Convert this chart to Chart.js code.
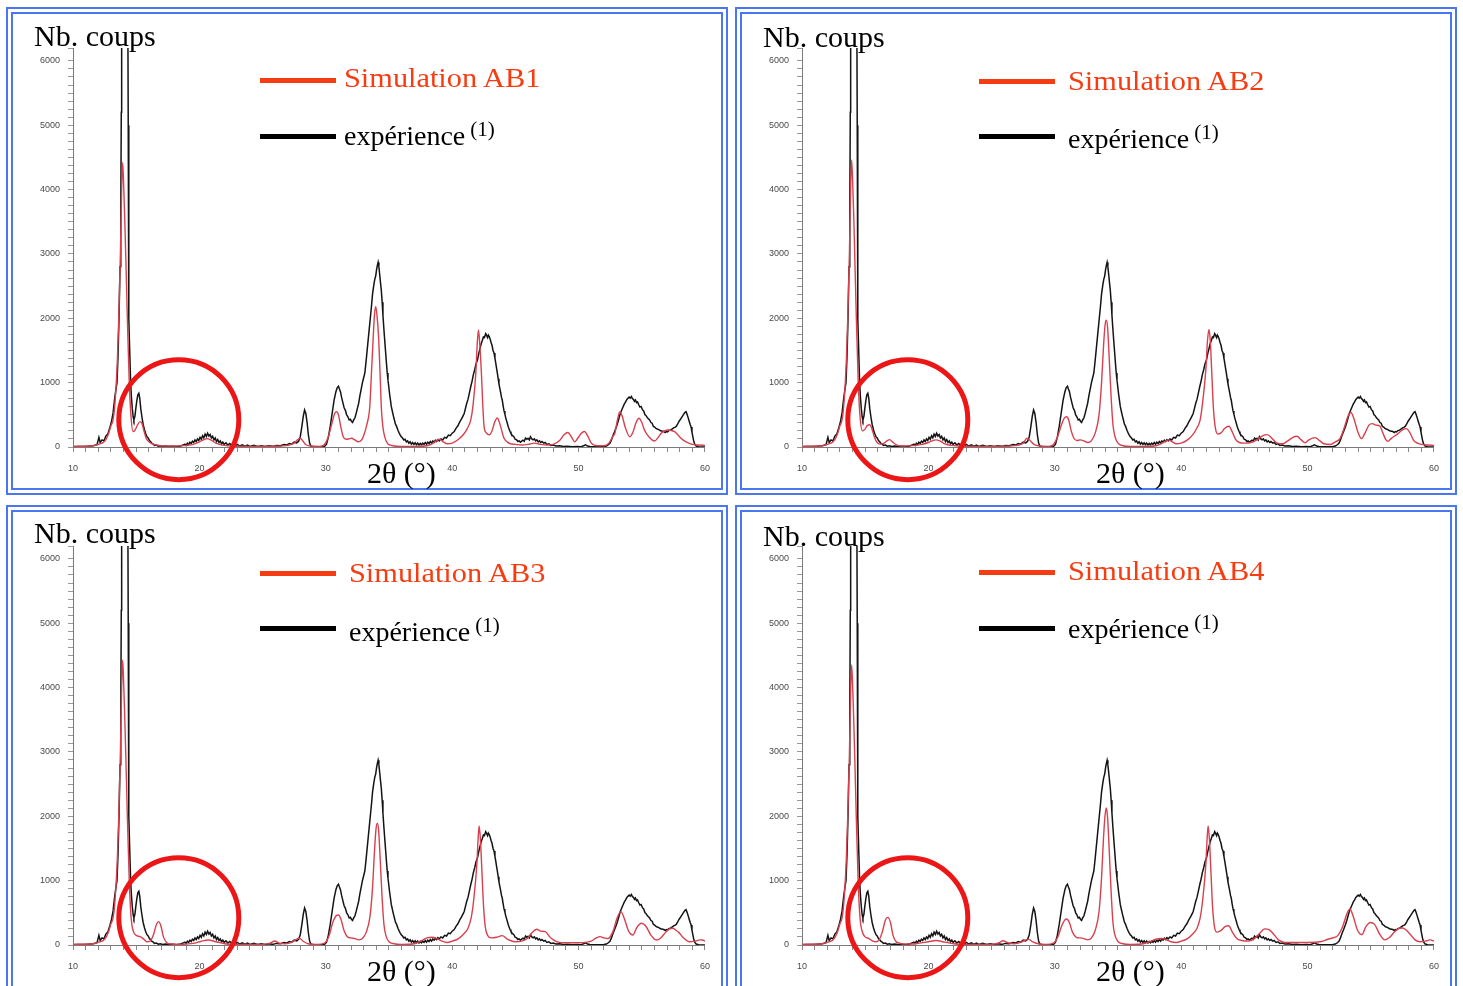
<!DOCTYPE html>
<html>
<head>
<meta charset="utf-8">
<script src="https://cdn.jsdelivr.net/npm/chart.js@4/dist/chart.umd.min.js"></script>
<style>
  html, body { margin: 0; padding: 0; background: #fff; }
  body { position: relative; width: 1463px; height: 986px; overflow: hidden; font-family: "Liberation Serif", "Times New Roman", serif; }
  .frame { position: absolute; box-sizing: border-box; border: 2px solid #4a76f3; }
  .cv { position: absolute; }
  .txt { position: absolute; white-space: nowrap; line-height: 1; color: #000; transform-origin: 0 0; }
  .red { color: #f53c12; transform: scaleX(1.083); }
  .bar { position: absolute; height: 5px; }
</style>
</head>
<body>
<script>
// ---------- DATA ----------
const xTickLabels = [10, 20, 30, 40, 50, 60];
const yTickLabels = [0, 1000, 2000, 3000, 4000, 5000, 6000];
const simNames = ['Simulation AB1', 'Simulation AB2', 'Simulation AB3', 'Simulation AB4'];
const expLabel = 'expérience';
const expSup = '(1)';
const yTitle = 'Nb. coups';
const xTitle = '2θ (°)';

// experimental pattern (black), same in all four panels
const expTheta = [10.0,10.4,10.8,11.2,11.6,11.9,12.05,12.15,12.3,12.45,12.6,12.75,12.9,13.05,13.17,13.3,13.4,13.48,13.56,13.64,13.72,13.78,13.82,13.85,14.1,14.34,14.37,14.4,14.43,14.5,14.56,14.62,14.69,14.76,14.82,14.9,14.97,15.05,15.13,15.21,15.28,15.36,15.45,15.55,15.66,15.75,15.85,15.95,16.05,16.15,16.25,16.35,16.45,16.6,16.75,16.9,17.1,17.3,17.6,17.9,18.2,18.5,18.7,18.85,18.95,19.05,19.15,19.25,19.35,19.45,19.55,19.65,19.75,19.85,19.95,20.05,20.15,20.25,20.35,20.45,20.55,20.65,20.75,20.85,20.95,21.05,21.15,21.25,21.35,21.45,21.55,21.65,21.75,21.85,21.95,22.1,22.25,22.4,22.55,22.7,22.85,23.0,23.2,23.4,23.6,23.8,24.0,24.3,24.6,24.9,25.2,25.5,25.8,26.1,26.4,26.7,26.9,27.1,27.3,27.5,27.7,27.85,27.98,28.1,28.22,28.32,28.42,28.52,28.62,28.72,28.82,29.0,29.3,29.6,29.9,30.05,30.2,30.35,30.5,30.65,30.8,30.9,31.0,31.08,31.16,31.25,31.35,31.45,31.55,31.65,31.75,31.85,31.95,32.04,32.12,32.2,32.3,32.4,32.5,32.6,32.7,32.8,32.9,33.0,33.09,33.18,33.3,33.42,33.52,33.61,33.7,33.8,33.87,33.95,34.02,34.08,34.14,34.2,34.28,34.34,34.39,34.46,34.52,34.59,34.66,34.73,34.8,34.86,34.92,34.98,35.05,35.12,35.18,35.26,35.35,35.43,35.5,35.6,35.71,35.8,35.88,35.97,36.07,36.17,36.27,36.37,36.47,36.57,36.67,36.77,36.87,36.97,37.07,37.17,37.27,37.37,37.47,37.57,37.67,37.77,37.87,37.97,38.07,38.17,38.27,38.37,38.47,38.57,38.67,38.77,38.87,38.97,39.11,39.25,39.4,39.55,39.7,39.85,40.0,40.16,40.3,40.45,40.6,40.75,40.85,40.95,41.05,41.15,41.25,41.35,41.47,41.57,41.67,41.78,41.88,42.0,42.1,42.2,42.3,42.39,42.47,42.55,42.65,42.73,42.8,42.86,42.92,43.0,43.08,43.15,43.23,43.31,43.38,43.45,43.52,43.57,43.64,43.7,43.78,43.85,43.9,43.96,44.03,44.1,44.17,44.24,44.3,44.36,44.43,44.5,44.58,44.65,44.75,44.88,44.98,45.1,45.2,45.3,45.4,45.5,45.6,45.7,45.8,45.9,46.0,46.1,46.19,46.3,46.4,46.5,46.6,46.7,46.8,46.9,47.0,47.1,47.24,47.35,47.5,47.65,47.8,48.0,48.2,48.5,48.8,49.1,49.5,49.9,50.2,50.4,50.55,50.7,50.9,51.3,51.7,52.0,52.2,52.35,52.48,52.6,52.72,52.85,53.0,53.1,53.2,53.3,53.42,53.53,53.62,53.72,53.82,53.92,54.0,54.08,54.18,54.26,54.34,54.42,54.5,54.58,54.66,54.75,54.85,54.95,55.05,55.15,55.25,55.33,55.42,55.52,55.62,55.72,55.82,55.92,56.02,56.12,56.22,56.35,56.45,56.55,56.65,56.75,56.85,56.94,57.04,57.14,57.24,57.34,57.44,57.55,57.65,57.72,57.82,57.92,58.02,58.12,58.22,58.32,58.42,58.5,58.58,58.66,58.75,58.83,58.9,58.97,59.05,59.12,59.2,59.3,59.5,59.8,60.0];
const expCounts = [4,8,6,12,18,35,150,70,110,95,170,200,290,400,530,760,900,1000,1400,2000,2800,3600,5200,6600,12500,6600,5000,3300,2000,1400,1000,780,600,470,420,480,600,720,810,835,760,600,470,350,264,210,160,140,100,80,55,45,25,30,12,20,8,15,6,12,5,14,30,45,25,60,40,75,55,90,70,110,85,125,100,150,120,175,140,200,165,215,170,195,140,165,110,140,85,115,70,95,50,75,40,65,30,55,25,60,20,40,15,35,10,30,10,25,8,20,8,18,10,25,20,40,30,55,45,75,65,90,160,310,480,575,520,380,190,60,15,5,0,0,10,40,150,320,520,720,860,920,945,900,860,770,690,610,570,500,470,420,430,395,380,420,450,520,600,680,800,900,1000,1080,1150,1320,1560,1800,2000,2180,2380,2520,2600,2660,2760,2820,2870,2800,2650,2530,2440,2250,2050,1850,1660,1480,1300,1150,1040,940,820,720,630,560,480,420,360,320,260,220,190,160,140,110,120,80,95,60,80,45,70,40,65,35,60,30,55,35,60,40,70,45,75,55,85,60,95,75,105,85,115,95,125,110,150,140,185,175,215,240,290,330,390,440,480,520,600,680,740,830,940,1020,1120,1200,1290,1350,1450,1530,1610,1660,1710,1700,1760,1730,1700,1740,1720,1680,1620,1580,1500,1460,1380,1300,1210,1150,1060,980,900,830,770,730,640,560,510,450,410,370,320,280,240,210,180,160,120,110,85,95,75,90,105,90,140,120,135,110,160,125,110,125,95,110,80,95,70,85,60,70,40,50,25,30,15,18,8,10,5,8,5,20,35,15,8,5,5,8,15,35,57,110,180,240,320,380,450,520,580,630,670,700,740,760,775,760,785,750,740,710,730,690,700,660,620,630,580,560,500,490,460,440,420,380,370,320,310,290,280,270,255,250,245,240,225,240,235,255,260,270,285,300,310,320,350,390,420,450,480,510,540,550,510,460,400,350,310,230,150,80,40,15,5,0,0];

// simulations (red)
const ab1Theta = [10,11,11.5,12.0,12.5,12.8,13.0,13.17,13.3,13.5,13.62,13.75,13.85,13.93,14.02,14.1,14.17,14.3,14.45,14.6,14.74,14.9,15.1,15.3,15.45,15.6,15.79,16.0,16.4,17,18,19,19.5,20.0,20.3,20.6,20.9,21.3,21.8,22.5,24,26,27,27.5,27.75,27.98,28.2,28.4,28.8,29.5,29.9,30.2,30.5,30.7,30.86,31.0,31.2,31.38,31.6,31.8,32.04,32.3,32.56,32.8,33.0,33.25,33.48,33.6,33.74,33.85,33.95,34.05,34.19,34.3,34.39,34.5,34.66,34.9,35.3,36,37,38,38.5,38.98,39.3,39.6,40.0,40.5,40.95,41.2,41.47,41.65,41.87,41.98,42.08,42.18,42.31,42.42,42.52,42.7,42.92,43.15,43.35,43.57,43.8,44.1,44.35,44.6,45,45.5,46,46.5,47,47.5,48,48.5,48.85,49.15,49.45,49.7,49.95,50.2,50.46,50.75,51.0,51.5,52.0,52.4,52.7,52.87,53.05,53.26,53.45,53.7,54.05,54.3,54.55,54.78,55.0,55.2,55.36,55.7,56.0,56.3,56.54,56.8,57.07,57.35,57.6,57.85,58.1,58.5,59.0,59.5,60];
const ab1Counts = [10,12,15,40,90,200,330,420,630,1300,2000,3000,4000,4420,4000,3500,3000,2000,1000,450,240,260,340,395,370,260,135,80,40,20,15,25,40,80,110,130,110,60,30,15,10,12,25,60,110,135,90,40,15,10,40,160,380,520,550,500,300,160,120,125,135,110,82,100,180,350,630,1100,1660,2050,2180,2050,1660,1100,630,340,160,50,20,10,10,20,60,120,80,50,60,120,210,290,420,650,1150,1600,1820,1600,1150,650,320,220,190,250,380,450,340,135,80,50,40,30,40,60,40,30,40,100,190,225,150,80,140,210,240,160,60,20,20,60,160,213,400,550,480,300,160,230,380,446,380,270,213,130,93,150,213,250,264,255,238,190,135,80,40,30,25];

const ab2Theta = [10,11,11.5,12.0,12.5,12.8,13.0,13.17,13.3,13.5,13.62,13.75,13.85,13.93,14.02,14.1,14.17,14.3,14.45,14.6,14.78,14.95,15.15,15.35,15.5,15.7,15.9,16.2,16.5,16.75,16.94,17.15,17.5,18,19,19.5,20.0,20.3,20.6,20.9,21.3,21.8,22.5,24,26,27,27.5,27.8,28.05,28.35,28.8,29.5,29.9,30.2,30.5,30.75,30.94,31.1,31.3,31.5,31.75,32.0,32.3,32.6,32.9,33.2,33.5,33.7,33.85,33.98,34.08,34.18,34.3,34.45,34.6,34.75,35.0,35.4,36,37,38,38.5,38.98,39.3,39.6,40.0,40.5,40.95,41.2,41.5,41.7,41.95,42.08,42.2,42.3,42.42,42.55,42.7,42.9,43.15,43.45,43.78,44.05,44.3,44.6,45.0,45.5,46.0,46.4,46.8,47.2,47.6,48.0,48.4,48.8,49.15,49.5,49.8,50.1,50.6,50.95,51.3,51.8,52.2,52.56,52.9,53.2,53.42,53.65,53.95,54.26,54.55,54.85,55.13,55.4,55.7,55.95,56.2,56.35,56.6,57.1,57.5,57.8,58.1,58.4,58.7,59.0,59.5,60];
const ab2Counts = [10,12,15,40,90,200,330,420,630,1300,2000,3000,4050,4460,4050,3550,3000,2000,1000,450,250,270,330,345,300,170,80,45,60,100,115,80,30,15,25,40,70,95,110,95,50,25,15,10,12,25,60,135,100,40,15,10,40,150,330,450,470,420,250,140,100,110,95,70,100,220,500,1000,1550,1900,1970,1850,1400,800,350,170,60,20,10,10,20,60,110,80,50,60,110,200,280,420,700,1200,1650,1826,1650,1150,600,300,200,220,290,322,230,120,70,60,70,110,170,192,130,60,50,90,145,166,110,65,110,145,100,50,40,80,130,300,480,535,450,250,130,220,340,363,340,330,220,110,88,130,200,265,285,220,100,60,40,30,25];

const ab3Theta = [10,11,11.5,12.0,12.5,12.8,13.0,13.17,13.3,13.5,13.62,13.75,13.85,13.93,14.02,14.1,14.17,14.3,14.45,14.6,14.8,15.0,15.3,15.55,15.85,16.1,16.35,16.6,16.77,16.95,17.15,17.4,17.8,18.5,19.5,20.1,20.7,21.3,22,23,25,25.6,25.96,26.3,26.8,27.3,27.6,27.9,28.2,28.6,29.3,29.9,30.25,30.55,30.8,31.0,31.2,31.45,31.7,32.0,32.3,32.6,32.9,33.2,33.5,33.7,33.85,33.97,34.08,34.18,34.3,34.45,34.6,34.75,35.0,35.4,36,37,37.5,38.0,38.4,38.8,39.2,39.6,40.0,40.5,40.95,41.25,41.5,41.7,41.95,42.05,42.13,42.23,42.35,42.48,42.62,42.8,43.1,43.5,43.96,44.3,44.6,45.0,45.5,46.0,46.35,46.7,47.0,47.37,47.7,48.0,48.5,49.5,50.5,51.0,51.4,51.7,52.0,52.3,52.7,53.05,53.35,53.6,53.95,54.3,54.6,54.97,55.3,55.7,56.15,56.5,56.9,57.2,57.46,57.7,57.9,58.3,58.77,59.2,59.6,59.8,60];
const ab3Counts = [10,12,15,40,90,200,330,420,630,1300,2000,3000,4000,4430,4000,3500,3000,2000,1000,420,200,150,130,100,50,60,150,320,363,300,130,40,15,10,25,55,78,50,20,10,10,30,62,30,20,40,80,104,60,20,10,30,140,350,450,466,400,220,130,110,100,80,100,200,450,900,1450,1800,1893,1780,1350,750,320,150,50,20,10,20,60,110,120,100,60,40,60,100,180,260,420,700,1250,1650,1850,1650,1150,600,280,150,110,120,145,100,70,50,60,110,200,244,215,207,130,80,40,35,40,60,110,130,110,100,200,420,518,420,220,155,270,337,300,160,78,110,200,250,260,230,200,110,51,60,80,78,60];

const ab4Theta = [10,11,11.5,12.0,12.5,12.8,13.0,13.17,13.3,13.5,13.62,13.75,13.85,13.93,14.02,14.1,14.17,14.3,14.45,14.6,14.8,14.97,15.3,15.6,15.85,16.1,16.35,16.6,16.8,17.0,17.2,17.45,17.6,18,19,20,20.6,21.3,22,23,25,25.6,25.9,26.3,26.8,27.3,27.6,27.93,28.25,28.7,29.3,29.9,30.25,30.55,30.8,30.94,31.15,31.4,31.7,32,32.3,32.6,32.9,33.2,33.5,33.7,33.85,33.97,34.07,34.17,34.3,34.45,34.6,34.75,35.0,35.4,36,37,37.5,38.0,38.4,38.8,39.2,39.6,40.0,40.5,40.95,41.25,41.5,41.7,41.95,42.05,42.13,42.23,42.35,42.48,42.62,42.8,43.1,43.5,43.75,44.05,44.4,44.8,45.3,45.8,46.2,46.6,46.95,47.3,47.7,48.2,49,50,51,51.6,52.0,52.4,52.8,53.1,53.35,53.6,53.95,54.3,54.6,54.95,55.3,55.7,56.1,56.5,56.9,57.25,57.5,57.75,58.1,58.5,58.9,59.3,59.7,60];
const ab4Counts = [10,12,15,40,90,200,330,420,630,1300,2000,2950,3950,4350,3950,3450,2950,1950,950,400,190,130,100,60,50,80,200,390,430,350,150,50,36,15,20,50,70,45,20,10,10,35,67,35,20,40,70,88,50,20,10,30,130,300,390,404,350,200,120,110,100,80,110,230,520,1050,1650,2000,2130,2000,1500,850,350,160,55,20,10,20,50,90,100,85,50,40,60,100,180,260,420,700,1250,1650,1850,1650,1150,600,300,200,220,290,300,200,100,70,60,100,180,250,240,170,80,40,40,40,50,90,110,150,300,480,560,450,230,160,280,350,320,170,80,120,210,260,265,240,170,80,50,60,80,60];

const simTheta = [ab1Theta, ab2Theta, ab3Theta, ab4Theta];
const simCounts = [ab1Counts, ab2Counts, ab3Counts, ab4Counts];
const ringCenter = [18.37, 425]; // 2θ, counts of the highlighted zone

// ---------- LAYOUT ----------
const offsets = [[0, 0], [729, 0], [0, 498], [729, 498]];
const textPos = [
  { nb: [34, 46], sim: [344, 87], red: [260, 80], exp: [344, 145], blk: [260, 136], ax: [367, 483] },
  { nb: [763, 47], sim: [1068, 90], red: [979, 81], exp: [1068, 148], blk: [979, 136], ax: [1096, 483] },
  { nb: [34, 543], sim: [349, 582], red: [260, 573], exp: [349, 641], blk: [260, 628], ax: [367, 981] },
  { nb: [763, 546], sim: [1068, 580], red: [979, 572], exp: [1068, 638], blk: [979, 628], ax: [1096, 981] }
];

function addDiv(cls, css, html) {
  const d = document.createElement('div');
  d.className = cls;
  Object.assign(d.style, css);
  if (html !== undefined) d.innerHTML = html;
  document.body.appendChild(d);
  return d;
}
function addText(x, base, size, html, cls) {
  return addDiv('txt' + (cls ? ' ' + cls : ''), { left: x + 'px', top: (base - 0.8375 * size) + 'px', fontSize: size + 'px' }, html);
}

const ringPlugin = {
  id: 'ring',
  afterDraw(chart) {
    const { ctx, scales } = chart;
    const cx = scales.x.getPixelForValue(ringCenter[0]);
    const cy = scales.y.getPixelForValue(ringCenter[1]);
    ctx.save();
    ctx.beginPath();
    ctx.arc(cx, cy, 60, 0, Math.PI * 2);
    ctx.lineWidth = 5;
    ctx.strokeStyle = '#ec1616';
    ctx.stroke();
    ctx.restore();
  }
};

offsets.forEach(([dx, dy], i) => {
  addDiv('frame', { left: (6 + dx) + 'px', top: (7 + dy) + 'px', width: '722px', height: '488px' });
  addDiv('frame', { left: (11 + dx) + 'px', top: (12 + dy) + 'px', width: '712px', height: '478px' });

  const cv = document.createElement('canvas');
  cv.className = 'cv';
  cv.width = 708; cv.height = 474;
  Object.assign(cv.style, { left: (13 + dx) + 'px', top: (14 + dy) + 'px', width: '708px', height: '474px' });
  document.body.appendChild(cv);

  const tp = textPos[i];
  addText(tp.nb[0], tp.nb[1], 30, yTitle);
  addText(tp.sim[0], tp.sim[1], 28, simNames[i], 'red');
  addText(tp.exp[0], tp.exp[1], 28, expLabel + '<span style="font-size:21px;position:relative;top:-9px;margin-left:5px">' + expSup + '</span>');
  addText(tp.ax[0], tp.ax[1], 30, xTitle);
  addDiv('bar', { left: tp.red[0] + 'px', top: (tp.red[1] - 2.5) + 'px', width: '76px', background: '#f53c12' });
  addDiv('bar', { left: tp.blk[0] + 'px', top: (tp.blk[1] - 2.5) + 'px', width: '76px', background: '#000' });

  const tickFont = { family: '"Liberation Sans", Arial, sans-serif', size: 9 };
  new Chart(cv, {
    type: 'line',
    data: {
      datasets: [
        {
          label: simNames[i],
          data: simTheta[i].map((t, k) => ({ x: t, y: simCounts[i][k] })),
          borderColor: '#d8404e', borderWidth: 1.4, pointRadius: 0, fill: false,
          cubicInterpolationMode: 'monotone'
        },
        {
          label: expLabel,
          data: expTheta.map((t, k) => ({ x: t, y: expCounts[k] })),
          borderColor: '#141414', borderWidth: 1.5, pointRadius: 0, fill: false, tension: 0
        }
      ]
    },
    options: {
      responsive: false, animation: false, events: [],
      layout: { padding: { left: 0, right: 12, top: 34, bottom: 0 } },
      plugins: { legend: { display: false }, tooltip: { enabled: false } },
      scales: {
        x: {
          type: 'linear', min: 10, max: 60,
          afterFit: s => { s.height = 41; },
          ticks: { stepSize: 1, autoSkip: false, maxRotation: 0, padding: 11, font: tickFont, color: '#4a4a4a',
                   callback: v => xTickLabels.includes(v) ? String(v) : '' },
          grid: { drawOnChartArea: false, drawTicks: true, tickLength: 5, tickColor: '#8a8a8a' },
          border: { display: true, color: '#7a7a7a', width: 1 }
        },
        y: {
          type: 'linear', min: 0, max: 6200,
          afterFit: s => { s.width = 60; },
          ticks: { stepSize: 125, autoSkip: false, padding: 8, font: tickFont, color: '#4a4a4a',
                   callback: v => yTickLabels.includes(v) ? String(v) : '' },
          grid: { drawOnChartArea: false, drawTicks: true, tickLength: 5, tickColor: '#9a9a9a' },
          border: { display: true, color: '#7a7a7a', width: 1 }
        }
      }
    },
    plugins: [ringPlugin]
  });
});
</script>
</body>
</html>
